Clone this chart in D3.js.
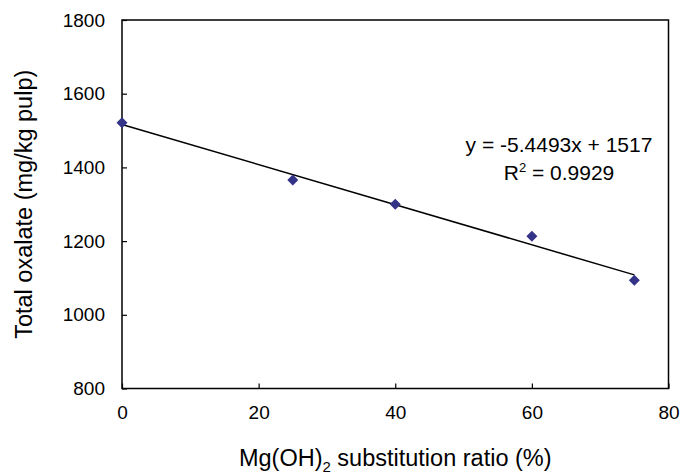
<!DOCTYPE html>
<html>
<head>
<meta charset="utf-8">
<script src="https://cdn.jsdelivr.net/npm/d3@7"></script>
<style>
  body { margin: 0; background: #fff; }
  text { font-family: "Liberation Sans", Arial, sans-serif; fill: #000; }
</style>
</head>
<body>
<svg width="681" height="474"></svg>
<script>
var ratio = [0, 25, 40, 60, 75]
var oxalate = [1521, 1366, 1300, 1213, 1094]
var xTicks = [0, 20, 40, 60, 80]
var yTicks = [800, 1000, 1200, 1400, 1600, 1800]

var svg = d3.select('svg')
var plotL = 122, plotR = 668.5, plotT = 20, plotB = 388.5

var x = d3.scaleLinear().domain([0, 80]).range([plotL, plotR])
var y = d3.scaleLinear().domain([800, 1800]).range([plotB, plotT])

// frame
svg.append('rect')
  .attr('x', plotL).attr('y', plotT)
  .attr('width', plotR - plotL).attr('height', plotB - plotT)
  .attr('fill', 'none').attr('stroke', '#000').attr('stroke-width', 1.5)

svg.append('g')
  .attr('transform', 'translate(0,' + plotB + ')')
  .call(d3.axisBottom(x).tickValues(xTicks).tickSize(-5).tickPadding(17))
svg.append('g')
  .attr('transform', 'translate(' + plotL + ',0)')
  .call(d3.axisLeft(y).tickValues(yTicks).tickSize(-5).tickPadding(17).tickFormat(d3.format('d')))

svg.selectAll('.domain').remove()
svg.selectAll('.tick line').attr('stroke', '#000').attr('stroke-width', 1.2)
svg.selectAll('.tick text').style('font-size', '19px').attr('fill', '#000')
  .style('font-family', '"Liberation Sans", Arial, sans-serif')

// linear fit
var mx = d3.mean(ratio), my = d3.mean(oxalate)
var sxy = d3.sum(ratio, function(d, i) { return (d - mx) * (oxalate[i] - my) })
var sxx = d3.sum(ratio, function(d) { return (d - mx) * (d - mx) })
var slope = sxy / sxx
var icpt = my - slope * mx

svg.append('line')
  .attr('x1', x(d3.min(ratio))).attr('y1', y(icpt + slope * d3.min(ratio)))
  .attr('x2', x(d3.max(ratio))).attr('y2', y(icpt + slope * d3.max(ratio)))
  .attr('stroke', '#000').attr('stroke-width', 1.5)

// points
svg.selectAll('path.pt')
  .data(ratio)
  .enter()
  .append('path')
  .classed('pt', true)
  .attr('d', 'M0,-5.5L5.5,0L0,5.5L-5.5,0Z')
  .attr('transform', function(d, i) { return 'translate(' + x(d) + ',' + y(oxalate[i]) + ')' })
  .attr('fill', '#333388')

// equation
svg.append('text')
  .attr('x', 559).attr('y', 152).attr('text-anchor', 'middle')
  .style('font-size', '21px')
  .text('y = -5.4493x + 1517')
var r2 = svg.append('text')
  .attr('x', 559).attr('y', 180).attr('text-anchor', 'middle')
  .style('font-size', '21px')
r2.append('tspan').text('R')
r2.append('tspan').attr('dy', -8).style('font-size', '13px').text('2')
r2.append('tspan').attr('dy', 8).text(' = 0.9929')

// axis titles
var xt = svg.append('text')
  .attr('x', (plotL + plotR) / 2).attr('y', 466).attr('text-anchor', 'middle')
  .style('font-size', '23.5px')
xt.append('tspan').text('Mg(OH)')
xt.append('tspan').attr('dy', 6).style('font-size', '15px').text('2')
xt.append('tspan').attr('dy', -6).text(' substitution ratio (%)')

svg.append('text')
  .attr('transform', 'translate(32,' + (plotT + plotB) / 2 + ') rotate(-90)')
  .attr('text-anchor', 'middle')
  .style('font-size', '23.5px')
  .text('Total oxalate (mg/kg pulp)')
</script>
</body>
</html>
